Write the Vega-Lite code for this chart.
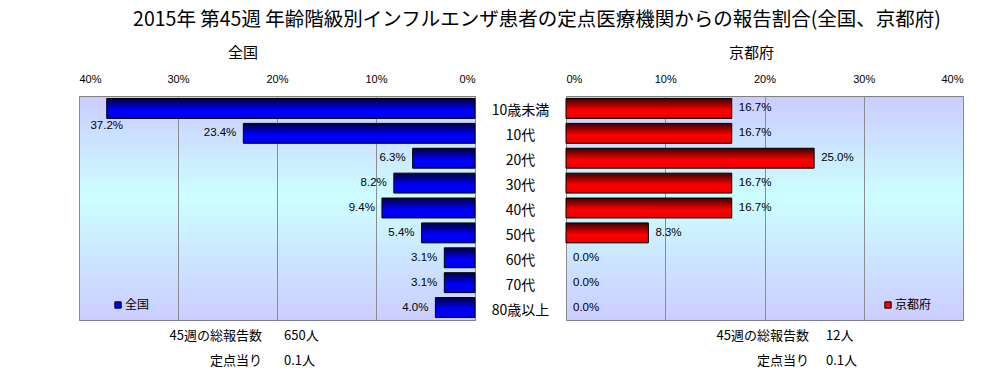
{
  "$schema": "https://vega.github.io/schema/vega-lite/v6.json",
  "padding": {"left": 78, "top": 10, "right": 5, "bottom": 0},
  "background": "white",
  "title": {
    "text": "2015年 第45週 年齢階級別インフルエンザ患者の定点医療機関からの報告割合(全国、京都府)",
    "fontSize": 19.5, "font": "Noto Sans CJK JP", "fontWeight": "normal",
    "anchor": "middle", "offset": 15, "dx": 16, "color": "#000"
  },
  "datasets": {
    "ages": [
      {"age": "10歳未満", "national": 0.372, "kyoto": 0.167},
      {"age": "10代", "national": 0.234, "kyoto": 0.167},
      {"age": "20代", "national": 0.063, "kyoto": 0.250},
      {"age": "30代", "national": 0.082, "kyoto": 0.167},
      {"age": "40代", "national": 0.094, "kyoto": 0.167},
      {"age": "50代", "national": 0.054, "kyoto": 0.083},
      {"age": "60代", "national": 0.031, "kyoto": 0.0},
      {"age": "70代", "national": 0.031, "kyoto": 0.0},
      {"age": "80歳以上", "national": 0.040, "kyoto": 0.0}
    ],
    "foot": [
      {"panel": "全国", "label": "45週の総報告数", "value": "650人"},
      {"panel": "全国", "label": "定点当り", "value": "0.1人"},
      {"panel": "京都府", "label": "45週の総報告数", "value": "12人"},
      {"panel": "京都府", "label": "定点当り", "value": "0.1人"}
    ]
  },
  "config": {
    "font": "Noto Sans CJK JP",
    "view": {"stroke": null},
    "title": {"fontWeight": "normal", "fontSize": 15, "font": "Noto Sans CJK JP", "color": "#000"},
    "axis": {"labelFont": "Liberation Sans", "labelFontSize": 11, "labelColor": "#000", "gridColor": "#8c8c8c", "gridWidth": 1, "gridOpacity": 1},
    "legend": {"labelFont": "Noto Sans CJK JP", "labelFontSize": 12, "labelColor": "#000"}
  },
  "spacing": 0,
  "vconcat": [
    {
      "spacing": 0,
      "bounds": "flush",
      "resolve": {"scale": {"color": "independent"}, "legend": {"color": "independent"}},
      "hconcat": [
        {
          "width": 396, "height": 224,
          "title": {"text": "全国", "dx": -34, "offset": 12},
          "data": {"name": "ages"},
          "view": {"stroke": "#808080", "fill": {"gradient": "linear", "x1": 0, "y1": 0, "x2": 0, "y2": 1, "stops": [{"offset": 0, "color": "#ccccff"}, {"offset": 0.45, "color": "#ccffff"}, {"offset": 1, "color": "#ccccff"}]}},
          "encoding": {
            "y": {"field": "age", "type": "nominal", "sort": null, "axis": null, "scale": {"paddingInner": 0.2, "paddingOuter": 0.1}}
          },
          "layer": [
            {
              "mark": {"type": "bar", "stroke": "#000", "strokeWidth": 1, "fill": {"gradient": "linear", "x1": 0, "y1": 0, "x2": 0, "y2": 1, "stops": [{"offset": 0, "color": "#000040"}, {"offset": 0.6, "color": "#0000ff"}, {"offset": 1, "color": "#0000e6"}]}},
              "encoding": {
                "x": {"field": "national", "type": "quantitative", "scale": {"domain": [0, 0.4], "reverse": true},
                  "axis": {"orient": "top", "format": ".0%", "values": [0, 0.1, 0.2, 0.3, 0.4], "grid": true, "ticks": false, "tickSize": 0, "domain": false, "labelPadding": 12, "title": null}}
              }
            },
            {
              "transform": [{"filter": "datum.national <= 0.3"}],
              "mark": {"type": "text", "align": "right", "dx": -7, "fontSize": 11.5, "font": "Liberation Sans", "color": "#000"},
              "encoding": {"x": {"field": "national", "type": "quantitative"}, "text": {"field": "national", "format": ".1%"}}
            },
            {
              "transform": [{"filter": "datum.national > 0.3"}],
              "mark": {"type": "text", "align": "center", "dy": 18, "fontSize": 11.5, "font": "Liberation Sans", "color": "#000"},
              "encoding": {"x": {"field": "national", "type": "quantitative"}, "text": {"field": "national", "format": ".1%"}}
            },
            {
              "mark": {"type": "square", "opacity": 0},
              "encoding": {
                "x": {"field": "national", "type": "quantitative"},
                "color": {"datum": "全国", "scale": {"range": ["#0000ff"]},
                  "legend": {"orient": "none", "legendX": 33, "legendY": 203, "title": null, "symbolType": "square", "symbolSize": 40, "symbolOpacity": 1, "symbolStrokeColor": "#000", "symbolStrokeWidth": 1, "padding": 0, "labelOffset": 1}}
              }
            }
          ]
        },
        {
          "width": 91, "height": 224,
          "data": {"name": "ages"},
          "mark": {"type": "text", "fontSize": 14, "dy": 3, "color": "#000"},
          "encoding": {
            "y": {"field": "age", "type": "nominal", "sort": null, "axis": null, "scale": {"paddingInner": 0.2, "paddingOuter": 0.1}},
            "text": {"field": "age"}
          }
        },
        {
          "width": 397, "height": 224,
          "title": {"text": "京都府", "dx": -13, "offset": 12},
          "data": {"name": "ages"},
          "view": {"stroke": "#808080", "fill": {"gradient": "linear", "x1": 0, "y1": 0, "x2": 0, "y2": 1, "stops": [{"offset": 0, "color": "#ccccff"}, {"offset": 0.45, "color": "#ccffff"}, {"offset": 1, "color": "#ccccff"}]}},
          "encoding": {
            "y": {"field": "age", "type": "nominal", "sort": null, "axis": null, "scale": {"paddingInner": 0.2, "paddingOuter": 0.1}}
          },
          "layer": [
            {
              "transform": [{"filter": "datum.kyoto > 0"}],
              "mark": {"type": "bar", "stroke": "#000", "strokeWidth": 1, "fill": {"gradient": "linear", "x1": 0, "y1": 0, "x2": 0, "y2": 1, "stops": [{"offset": 0, "color": "#400000"}, {"offset": 0.6, "color": "#ff0000"}, {"offset": 1, "color": "#e60000"}]}},
              "encoding": {
                "x": {"field": "kyoto", "type": "quantitative", "scale": {"domain": [0, 0.4]},
                  "axis": {"orient": "top", "format": ".0%", "values": [0, 0.1, 0.2, 0.3, 0.4], "grid": true, "ticks": false, "tickSize": 0, "domain": false, "labelPadding": 12, "title": null}}
              }
            },
            {
              "mark": {"type": "text", "align": "left", "dx": 7, "fontSize": 11.5, "font": "Liberation Sans", "color": "#000"},
              "encoding": {"x": {"field": "kyoto", "type": "quantitative"}, "text": {"field": "kyoto", "format": ".1%"}}
            },
            {
              "mark": {"type": "square", "opacity": 0},
              "encoding": {
                "x": {"field": "kyoto", "type": "quantitative"},
                "color": {"datum": "京都府", "scale": {"range": ["#ff0000"]},
                  "legend": {"orient": "none", "legendX": 316, "legendY": 203, "title": null, "symbolType": "square", "symbolSize": 40, "symbolOpacity": 1, "symbolStrokeColor": "#000", "symbolStrokeWidth": 1, "padding": 0, "labelOffset": 1}}
              }
            }
          ]
        }
      ]
    },
    {
      "spacing": 91,
      "bounds": "flush",
      "hconcat": [
        {
          "width": 396, "height": 50,
          "data": {"name": "foot"},
          "transform": [{"filter": "datum.panel === '全国'"}],
          "encoding": {
            "y": {"field": "label", "type": "nominal", "sort": null, "axis": null, "scale": {"type": "point", "range": [15, 40], "padding": 0}}
          },
          "layer": [
            {
              "mark": {"type": "text", "align": "right", "fontSize": 13, "color": "#000"},
              "encoding": {"x": {"datum": "label", "type": "nominal", "axis": null, "scale": {"type": "point", "domain": ["label", "value"], "range": [183, 205], "padding": 0}}, "text": {"field": "label"}}
            },
            {
              "mark": {"type": "text", "align": "left", "fontSize": 13, "color": "#000"},
              "encoding": {"x": {"datum": "value", "type": "nominal", "axis": null}, "text": {"field": "value"}}
            }
          ]
        },
        {
          "width": 397, "height": 50,
          "data": {"name": "foot"},
          "transform": [{"filter": "datum.panel === '京都府'"}],
          "encoding": {
            "y": {"field": "label", "type": "nominal", "sort": null, "axis": null, "scale": {"type": "point", "range": [15, 40], "padding": 0}}
          },
          "layer": [
            {
              "mark": {"type": "text", "align": "right", "fontSize": 13, "color": "#000"},
              "encoding": {"x": {"datum": "label", "type": "nominal", "axis": null, "scale": {"type": "point", "domain": ["label", "value"], "range": [243, 260], "padding": 0}}, "text": {"field": "label"}}
            },
            {
              "mark": {"type": "text", "align": "left", "fontSize": 13, "color": "#000"},
              "encoding": {"x": {"datum": "value", "type": "nominal", "axis": null}, "text": {"field": "value"}}
            }
          ]
        }
      ]
    }
  ]
}
